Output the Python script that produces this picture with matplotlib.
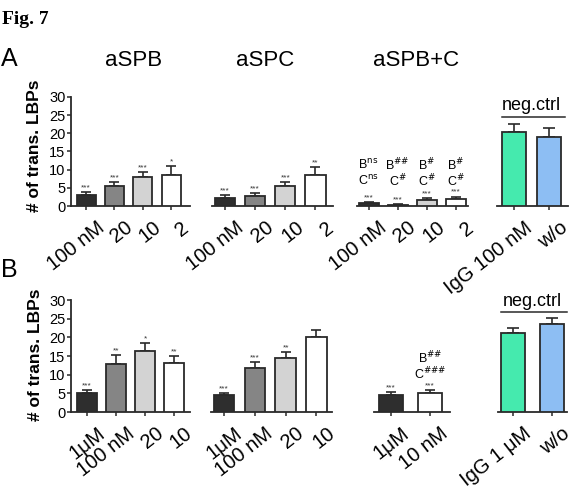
import matplotlib
matplotlib.use("Agg")
import matplotlib.pyplot as plt
import matplotlib.transforms as mtransforms
import numpy as np

plt.rcParams['font.family'] = ['Liberation Sans', 'DejaVu Sans']

# ---------------- data ----------------
a_titles = ["aSPB", "aSPC", "aSPB+C"]
a_conc_labels = ["100 nM", "20", "10", "2"]
a_spb_vals = [3.0, 5.4, 7.9, 8.4]
a_spb_err = [0.9, 1.2, 1.4, 2.5]
a_spb_stars = ["***", "***", "***", "*"]
a_spc_vals = [2.3, 2.65, 5.5, 8.5]
a_spc_err = [0.6, 0.85, 1.0, 2.2]
a_spc_stars = ["***", "***", "***", "**"]
a_spbc_vals = [0.8, 0.4, 1.65, 1.8]
a_spbc_err = [0.3, 0.2, 0.55, 0.8]
a_spbc_stars = ["***", "***", "***", "***"]
a_spbc_b_sig = ["ns", "##", "#", "#"]
a_spbc_c_sig = ["ns", "#", "#", "#"]
a_neg_labels = ["IgG 100 nM", "w/o"]
a_neg_vals = [20.4, 18.9]
a_neg_err = [2.3, 2.6]

b_spb_labels = ["1\u03bcM", "100 nM", "20", "10"]
b_spb_vals = [5.0, 12.8, 16.3, 13.0]
b_spb_err = [1.0, 2.4, 2.1, 2.0]
b_spb_stars = ["***", "**", "*", "**"]
b_spc_vals = [4.6, 11.9, 14.4, 20.1]
b_spc_err = [0.6, 1.6, 1.7, 1.8]
b_spc_stars = ["***", "***", "**", ""]
b_spbc_labels = ["1\u03bcM", "10 nM"]
b_spbc_vals = [4.65, 5.0]
b_spbc_err = [0.65, 1.0]
b_spbc_stars = ["***", "***"]
b_spbc_b_sig = ["", "##"]
b_spbc_c_sig = ["", "###"]
b_neg_labels = ["IgG 1 \u03bcM", "w/o"]
b_neg_vals = [21.2, 23.7]
b_neg_err = [1.4, 1.6]

yticks = [0, 5, 10, 15, 20, 25, 30]
ylabel = "# of trans. LBPs"

gray_colors = ["#2e2e2e", "#858585", "#d3d3d3", "#ffffff"]
neg_colors = ["#45EAAE", "#8DBEF3"]
edge = "#2a2a2a"

W, H = 581, 490
fig = plt.figure(figsize=(W / 100, H / 100), dpi=100)
label_offset = mtransforms.ScaledTranslation(10 / 100, -5 / 100,
                                             fig.dpi_scale_trans)


def px_rect(x0, x1, ytop, ybot):
    return [x0 / W, 1 - ybot / H, (x1 - x0) / W, (ybot - ytop) / H]


def sig(letter, s):
    return r"%s$^{\mathrm{%s}}$" % (letter, s.replace('#', r'\#'))


def panel(rect, vals, errs, colors, labels, xlim, width, stars=None,
          show_y=False, capsize=3.5):
    ax = fig.add_axes(rect)
    x = np.arange(len(vals))
    ax.bar(x, vals, width=width, color=colors, edgecolor=edge, linewidth=1.3,
           zorder=3)
    ax.errorbar(x, vals, yerr=[np.zeros(len(vals)), errs], fmt='none',
                ecolor=edge, elinewidth=1.2, capsize=capsize, capthick=1.2,
                zorder=2)
    ax.set_xlim(*xlim)
    ax.set_ylim(0, 30)
    ax.set_xticks(x)
    ax.set_xticklabels(labels, rotation=38, ha='right', va='top',
                       rotation_mode='anchor', fontsize=14.5)
    ax.tick_params(axis='x', length=3, width=1.1, color=edge, pad=2)
    for lab in ax.get_xticklabels():
        lab.set_transform(lab.get_transform() + label_offset)
    for s in ['top', 'right']:
        ax.spines[s].set_visible(False)
    ax.spines['bottom'].set_linewidth(1.3)
    ax.spines['bottom'].set_color(edge)
    if show_y:
        ax.set_yticks(yticks)
        ax.tick_params(axis='y', length=3, width=1.1, color=edge, pad=1,
                       labelsize=10.5)
        ax.spines['left'].set_linewidth(1.3)
        ax.spines['left'].set_color(edge)
    else:
        ax.spines['left'].set_visible(False)
        ax.set_yticks([])
    if stars:
        for xi, v, e, s in zip(x, vals, errs, stars):
            if s:
                ax.annotate(s, (xi, v + e), xytext=(0, 0.5),
                            textcoords='offset points', ha='center',
                            va='bottom', fontsize=6, color='#333333')
    ax.patch.set_alpha(0)
    return ax


# ---------------- Row A ----------------
A_top, A_bot = 97, 206
axA1 = panel(px_rect(71, 190, A_top, A_bot), a_spb_vals, a_spb_err,
             gray_colors, a_conc_labels, (-0.53, 3.67), 0.67,
             stars=a_spb_stars, show_y=True)
axA2 = panel(px_rect(212, 333, A_top, A_bot), a_spc_vals, a_spc_err,
             gray_colors, a_conc_labels, (-0.43, 3.58), 0.67,
             stars=a_spc_stars)
axA3 = panel(px_rect(357, 468, A_top, A_bot), a_spbc_vals, a_spbc_err,
             gray_colors, a_conc_labels, (-0.40, 3.43), 0.69,
             stars=a_spbc_stars)
for i, (b, c) in enumerate(zip(a_spbc_b_sig, a_spbc_c_sig)):
    axA3.text(i, 11.4, sig("B", b), ha='center', va='center', fontsize=9)
    axA3.text(i, 6.9, sig("C", c), ha='center', va='center', fontsize=9)
axA4 = panel(px_rect(497, 568, A_top, A_bot), a_neg_vals, a_neg_err,
             neg_colors, a_neg_labels, (-0.47, 1.525), 0.67, capsize=4.5)
axA4.text(0.5, 27.6, "neg.ctrl", ha='center', va='center', fontsize=13)
axA4.plot([-0.33, 1.44], [24.4, 24.4], color=edge, lw=1.1, clip_on=False)

# ---------------- Row B ----------------
B_top, B_bot = 300, 412
axB1 = panel(px_rect(71, 190, B_top, B_bot), b_spb_vals, b_spb_err,
             gray_colors, b_spb_labels, (-0.55, 3.55), 0.69,
             stars=b_spb_stars, show_y=True)
axB2 = panel(px_rect(211, 332, B_top, B_bot), b_spc_vals, b_spc_err,
             gray_colors, b_spb_labels, (-0.43, 3.51), 0.67,
             stars=b_spc_stars)
axB3 = panel(px_rect(374, 450, B_top, B_bot), b_spbc_vals, b_spbc_err,
             [gray_colors[0], gray_colors[3]], b_spbc_labels, (-0.44, 1.51),
             0.62, stars=b_spbc_stars)
for i, (b, c) in enumerate(zip(b_spbc_b_sig, b_spbc_c_sig)):
    if b:
        axB3.text(i, 14.4, sig("B", b), ha='center', va='center',
                  fontsize=9)
    if c:
        axB3.text(i, 10.2, sig("C", c), ha='center', va='center',
                  fontsize=9)
axB4 = panel(px_rect(498, 567, B_top, B_bot), b_neg_vals, b_neg_err,
             neg_colors, b_neg_labels, (-0.40, 1.40), 0.63, capsize=4.5)
axB4.text(0.5, 29.5, "neg.ctrl", ha='center', va='center', fontsize=13,
          clip_on=False)
axB4.plot([-0.31, 1.40], [26.8, 26.8], color=edge, lw=1.1, clip_on=False)

# ---------------- figure texts ----------------
fig.text(2 / W, 1 - 19 / H, "Fig. 7", fontsize=14, fontweight='bold',
         family='Liberation Serif', va='center', ha='left')
fig.text(1 / W, 1 - 59 / H, "A", fontsize=18, va='center', ha='left')
fig.text(1 / W, 1 - 270 / H, "B", fontsize=18, va='center', ha='left')
for t, cx in zip(a_titles, [134, 265, 416]):
    fig.text(cx / W, 1 - 61 / H, t, fontsize=16, ha='center', va='center')
fig.text(35 / W, 1 - 146 / H, ylabel, rotation=90, fontsize=12.5,
         fontweight='bold', ha='center', va='center')
fig.text(36 / W, 1 - 355 / H, ylabel, rotation=90, fontsize=12.5,
         fontweight='bold', ha='center', va='center')

fig.savefig("out.png", dpi=100)
